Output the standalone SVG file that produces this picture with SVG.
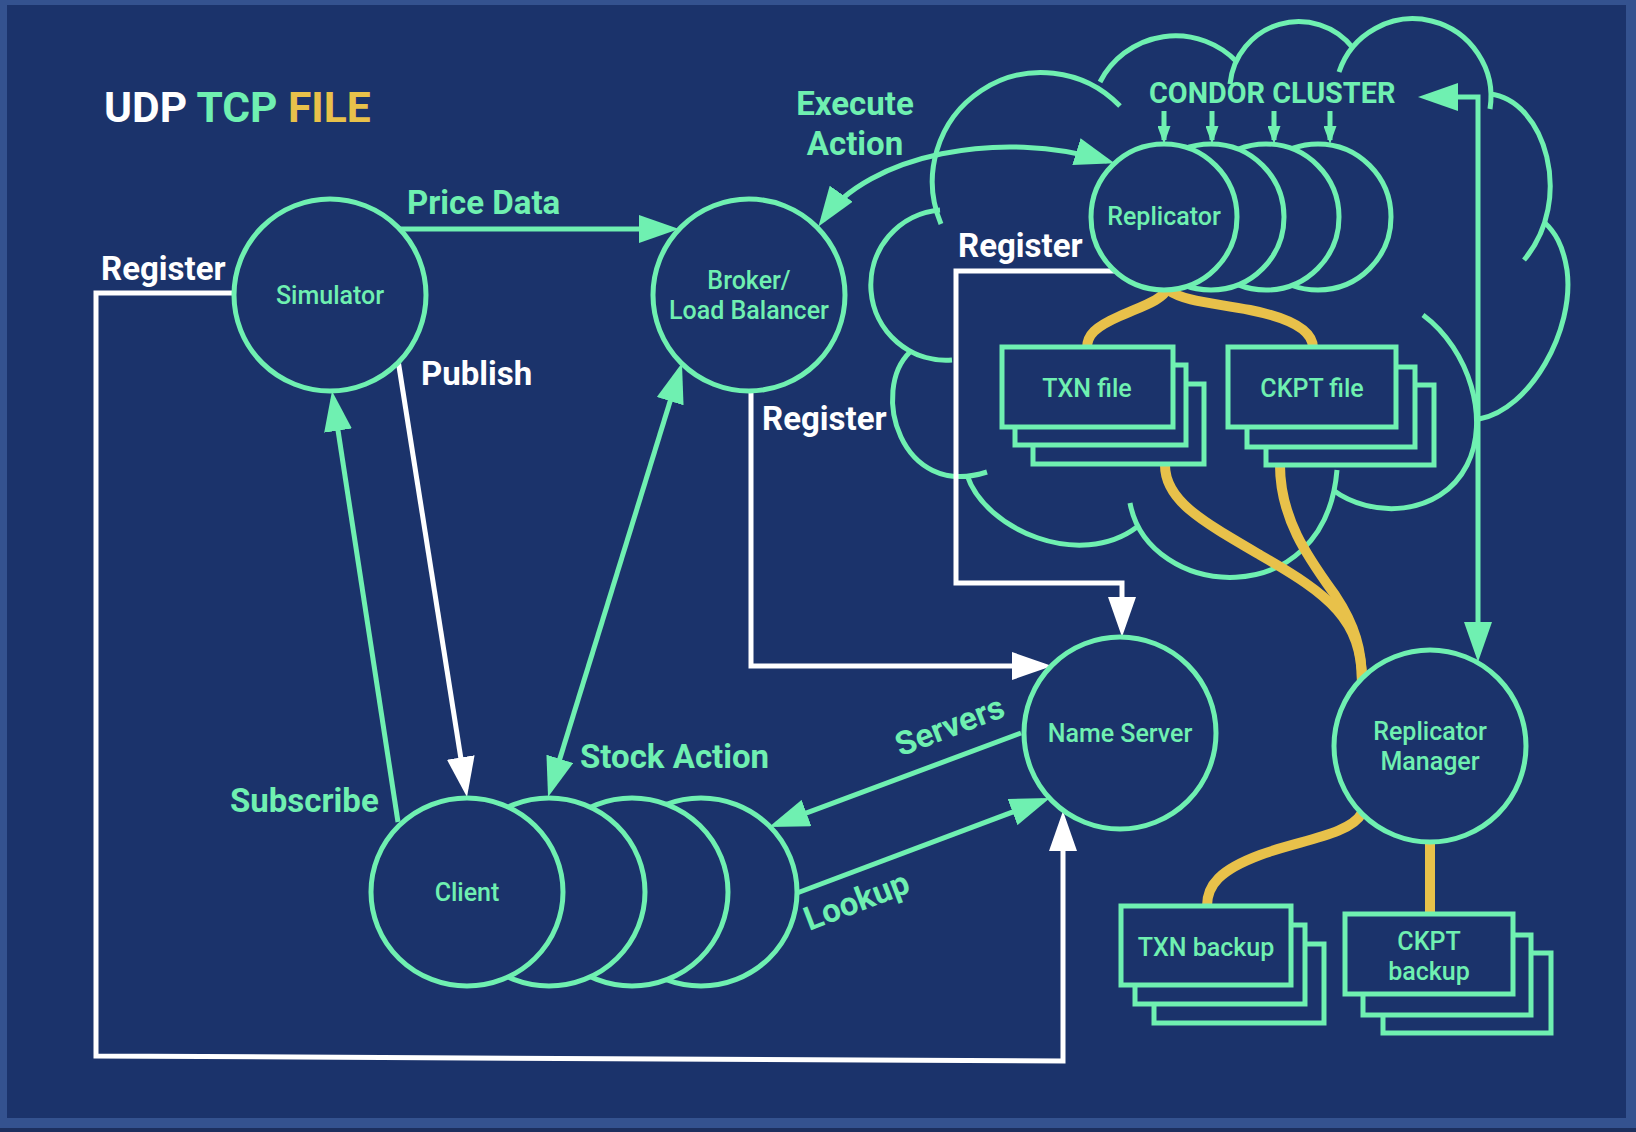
<svg xmlns="http://www.w3.org/2000/svg" width="1636" height="1132" viewBox="0 0 1636 1132">
<defs>
<style>
.g{fill:none;stroke:#6ff0b1;stroke-width:5}
.node{fill:#1b336b;stroke:#6ff0b1;stroke-width:5}
.w{fill:none;stroke:#ffffff;stroke-width:5}
.y{fill:none;stroke:#e8c14a;stroke-width:10}
.nt{font-family:Roboto,"Liberation Sans",sans-serif;font-size:25px;font-weight:500;fill:#6ff0b1;text-anchor:middle}
.lb{font-family:Roboto,"Liberation Sans",sans-serif;font-size:33px;font-weight:700}
.lg{fill:#6ff0b1}
.lw{fill:#ffffff}
</style>
<marker id="ag" markerUnits="userSpaceOnUse" viewBox="0 0 40 28" markerWidth="40" markerHeight="28" refX="32" refY="14" orient="auto-start-reverse"><path d="M0,0 L40,14 L0,28 z" fill="#6ff0b1"/></marker>
<marker id="aw" markerUnits="userSpaceOnUse" viewBox="0 0 40 28" markerWidth="40" markerHeight="28" refX="32" refY="14" orient="auto-start-reverse"><path d="M0,0 L40,14 L0,28 z" fill="#ffffff"/></marker>
<marker id="as" markerUnits="userSpaceOnUse" viewBox="0 0 18 13" markerWidth="18" markerHeight="13" refX="14" refY="6.5" orient="auto"><path d="M0,0 L18,6.5 L0,13 z" fill="#6ff0b1"/></marker>
</defs>
<rect x="0" y="0" width="1636" height="1132" fill="#1c2f5e"/>
<rect x="0" y="0" width="1636" height="1128" fill="#34528f"/>
<rect x="7" y="5" width="1619" height="1113" fill="#1b336b"/>

<g id="legend">
<text x="104" y="122" font-family="Roboto,'Liberation Sans',sans-serif" font-size="42.5" font-weight="700"><tspan fill="#ffffff">UDP </tspan><tspan fill="#6ff0b1">TCP </tspan><tspan fill="#e8c14a">FILE</tspan></text>
</g>

<g id="condor-cluster">
<path class="g" d="M941,224 A109,109 0 0 1 1120,106"/>
<path class="g" d="M940,210 A70,70 0 0 0 952,360"/>
<path class="g" d="M910,352 C870,390 900,500 987,472"/>
<path class="g" d="M967,475 C985,530 1080,570 1137,527"/>
<path class="g" d="M1130,503 C1148,600 1325,615 1337,470"/>
<path class="g" d="M1333,490 C1370,518 1440,518 1467,465 C1490,420 1470,350 1423,315"/>
<path class="g" d="M1479,419 C1530,410 1575,330 1567,270 C1563,245 1555,232 1544,222"/>
<path class="g" d="M1490,94 C1545,100 1575,200 1524,260"/>
<path class="g" d="M1490,109 A78,78 0 0 0 1339,72"/>
<path class="g" d="M1353,48 A69,69 0 0 0 1230,84"/>
<path class="g" d="M1237,62 A85,85 0 0 0 1100,82"/>
<text x="1149" y="103" font-family="Roboto,'Liberation Sans',sans-serif" font-size="28.8" font-weight="700" fill="#6ff0b1">CONDOR CLUSTER</text>
</g>

<g id="connectors">
<line class="g" x1="398" y1="229" x2="671" y2="229" marker-end="url(#ag)"/>
<path class="g" d="M823,220 C868,155 1000,128 1107,161" marker-start="url(#ag)" marker-end="url(#ag)"/>
<line class="g" x1="679.6" y1="370.6" x2="550.4" y2="789.4" marker-start="url(#ag)" marker-end="url(#ag)"/>
<line class="g" x1="398" y1="822" x2="333.2" y2="398.9" marker-end="url(#ag)"/>
<line class="w" x1="398" y1="360" x2="465.75" y2="789.1" marker-end="url(#aw)"/>
<path class="w" d="M234,293 H96 V1056 L1063,1061 V819" marker-end="url(#aw)"/>
<path class="w" d="M751,391 V666 H1044" marker-end="url(#aw)"/>
<path class="w" d="M1117,271 H956 V583 H1122 V629" marker-end="url(#aw)"/>
<line class="g" x1="1021" y1="733" x2="776.5" y2="824.2" marker-end="url(#ag)"/>
<line class="g" x1="797" y1="893" x2="1042.5" y2="800.8" marker-end="url(#ag)"/>
<path class="g" d="M1426,97 H1478 V654" marker-start="url(#ag)" marker-end="url(#ag)"/>
<line class="g" stroke-width="3" x1="1164" y1="111" x2="1164" y2="140" marker-end="url(#as)"/>
<line class="g" stroke-width="3" x1="1212" y1="111" x2="1212" y2="140" marker-end="url(#as)"/>
<line class="g" stroke-width="3" x1="1274" y1="111" x2="1274" y2="140" marker-end="url(#as)"/>
<line class="g" stroke-width="3" x1="1330" y1="111" x2="1330" y2="140" marker-end="url(#as)"/>
<path class="y" d="M1168,288 C1162,300 1145,305 1120,316 C1095,327 1087,335 1087,348"/>
<path class="y" d="M1168,290 C1185,302 1215,303 1250,310 C1290,318 1313,330 1313,348"/>
<path class="y" d="M1165,465 C1165,500 1200,520 1260,555 C1330,595 1362,620 1362,682"/>
<path class="y" d="M1280,465 C1280,520 1310,560 1335,595 C1355,625 1362,650 1362,682"/>
<path class="y" d="M1362,813 C1350,835 1300,840 1260,855 C1220,870 1207,885 1207,906"/>
<path class="y" d="M1430,842 V915"/>
<text class="lb lg" x="407" y="214">Price Data</text>
<text class="lb lw" x="101" y="280">Register</text>
<text class="lb lw" x="421" y="385">Publish</text>
<text class="lb lg" x="855" y="115" text-anchor="middle">Execute</text>
<text class="lb lg" x="855" y="155" text-anchor="middle">Action</text>
<text class="lb lw" x="958" y="257">Register</text>
<text class="lb lw" x="762" y="430">Register</text>
<text class="lb lg" x="580" y="768">Stock Action</text>
<text class="lb lg" x="230" y="812">Subscribe</text>
<text class="lb lg" font-size="30" text-anchor="middle" transform="translate(950,727) rotate(-21)" x="0" y="10">Servers</text>
<text class="lb lg" font-size="30" text-anchor="middle" transform="translate(857,902) rotate(-21)" x="0" y="10">Lookup</text>
</g>

<g id="simulator">
<circle class="node" cx="330" cy="295" r="96"/>
<text class="nt" x="330" y="304">Simulator</text>
</g>
<g id="broker">
<circle class="node" cx="749" cy="295" r="96"/>
<text class="nt" x="749" y="289">Broker/</text>
<text class="nt" x="749" y="319">Load Balancer</text>
</g>
<g id="replicator">
<circle class="node" cx="1318" cy="217" r="73"/>
<circle class="node" cx="1266" cy="217" r="73"/>
<circle class="node" cx="1211" cy="217" r="73"/>
<circle class="node" cx="1164" cy="217" r="73"/>
<text class="nt" x="1164" y="225">Replicator</text>
</g>
<g id="txn-file">
<rect class="node" x="1033" y="384" width="171" height="80"/>
<rect class="node" x="1015" y="365" width="171" height="80"/>
<rect class="node" x="1002" y="347" width="171" height="80"/>
<text class="nt" x="1087" y="397">TXN file</text>
</g>
<g id="ckpt-file">
<rect class="node" x="1266" y="385" width="168" height="80"/>
<rect class="node" x="1247" y="367" width="168" height="80"/>
<rect class="node" x="1228" y="347" width="168" height="80"/>
<text class="nt" x="1312" y="397">CKPT file</text>
</g>
<g id="name-server">
<circle class="node" cx="1120" cy="733" r="96"/>
<text class="nt" x="1120" y="742">Name Server</text>
</g>
<g id="replicator-manager">
<circle class="node" cx="1430" cy="746" r="96"/>
<text class="nt" x="1430" y="740">Replicator</text>
<text class="nt" x="1430" y="770">Manager</text>
</g>
<g id="client">
<ellipse class="node" cx="701" cy="892" rx="96" ry="94"/>
<ellipse class="node" cx="632" cy="892" rx="96" ry="94"/>
<ellipse class="node" cx="549" cy="892" rx="96" ry="94"/>
<ellipse class="node" cx="467" cy="892" rx="96" ry="94"/>
<text class="nt" x="467" y="901">Client</text>
</g>
<g id="txn-backup">
<rect class="node" x="1154" y="944" width="170" height="79"/>
<rect class="node" x="1135" y="925" width="170" height="79"/>
<rect class="node" x="1121" y="906" width="170" height="79"/>
<text class="nt" x="1206" y="956">TXN backup</text>
</g>
<g id="ckpt-backup">
<rect class="node" x="1383" y="953" width="168" height="80"/>
<rect class="node" x="1363" y="935" width="168" height="80"/>
<rect class="node" x="1345" y="914" width="168" height="80"/>
<text class="nt" x="1429" y="950">CKPT</text>
<text class="nt" x="1429" y="980">backup</text>
</g>
</svg>
